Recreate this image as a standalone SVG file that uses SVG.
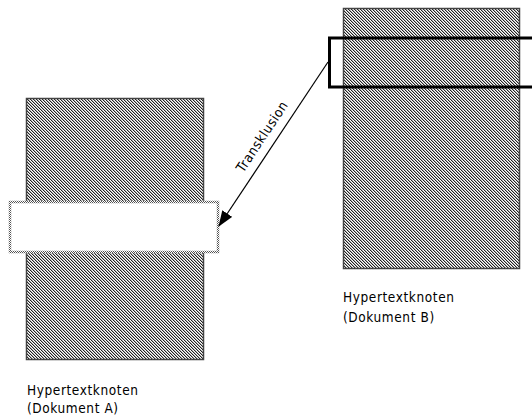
<svg xmlns="http://www.w3.org/2000/svg" width="532" height="417" viewBox="0 0 532 417">
<defs>
<pattern id="hatch" width="3" height="3" patternUnits="userSpaceOnUse">
<rect width="3" height="3" fill="#ffffff"/>
<rect x="0" y="0" width="1" height="1" fill="#222222"/>
<rect x="1" y="1" width="1" height="1" fill="#222222"/>
<rect x="2" y="2" width="1" height="1" fill="#222222"/>
<rect x="1" y="0" width="1" height="1" fill="#b0b0b0"/>
<rect x="2" y="1" width="1" height="1" fill="#b0b0b0"/>
<rect x="0" y="2" width="1" height="1" fill="#b0b0b0"/>
</pattern>
<pattern id="dots" width="2" height="2" patternUnits="userSpaceOnUse">
<rect width="2" height="2" fill="#ffffff"/>
<rect width="1" height="1" fill="#555555"/>
<rect x="1" y="1" width="1" height="1" fill="#555555"/>
</pattern>
<marker id="arrow" markerWidth="16" markerHeight="12" refX="15" refY="6" orient="auto" markerUnits="userSpaceOnUse">
<path d="M0,0 L16,6 L0,12 Z" fill="#000000"/>
</marker>
<style>
.doc { fill: url(#hatch); stroke: #444444; stroke-width: 1.5; }
.lbl { font-family: "DejaVu Sans Condensed", "DejaVu Sans", sans-serif; font-size: 13.5px; fill: #000000; letter-spacing: 0.6px; }
</style>
</defs>
<g id="docA">
<rect class="doc" x="26.5" y="98.5" width="177" height="261"/>
<text class="lbl" x="27" y="395">Hypertextknoten</text>
<text class="lbl" x="27" y="413">(Dokument A)</text>
</g>
<g id="docB">
<rect class="doc" x="343.5" y="8.5" width="176" height="260"/>
<text class="lbl" x="343" y="302">Hypertextknoten</text>
<text class="lbl" x="343" y="322">(Dokument B)</text>
</g>
<g id="inclusion">
<rect x="10" y="202" width="208" height="50" fill="#ffffff" stroke="url(#dots)" stroke-width="2.5"/>
</g>
<g id="source">
<rect x="329.5" y="38" width="210" height="49" fill="none" stroke="#000000" stroke-width="3"/>
</g>
<g id="connectors">
<line x1="328" y1="62" x2="219" y2="226" stroke="#000000" stroke-width="1.2" marker-end="url(#arrow)"/>
<text class="lbl" x="0" y="0" transform="translate(266,139) rotate(-56.4)" text-anchor="middle" letter-spacing="0">Transklusion</text>
</g>
</svg>
